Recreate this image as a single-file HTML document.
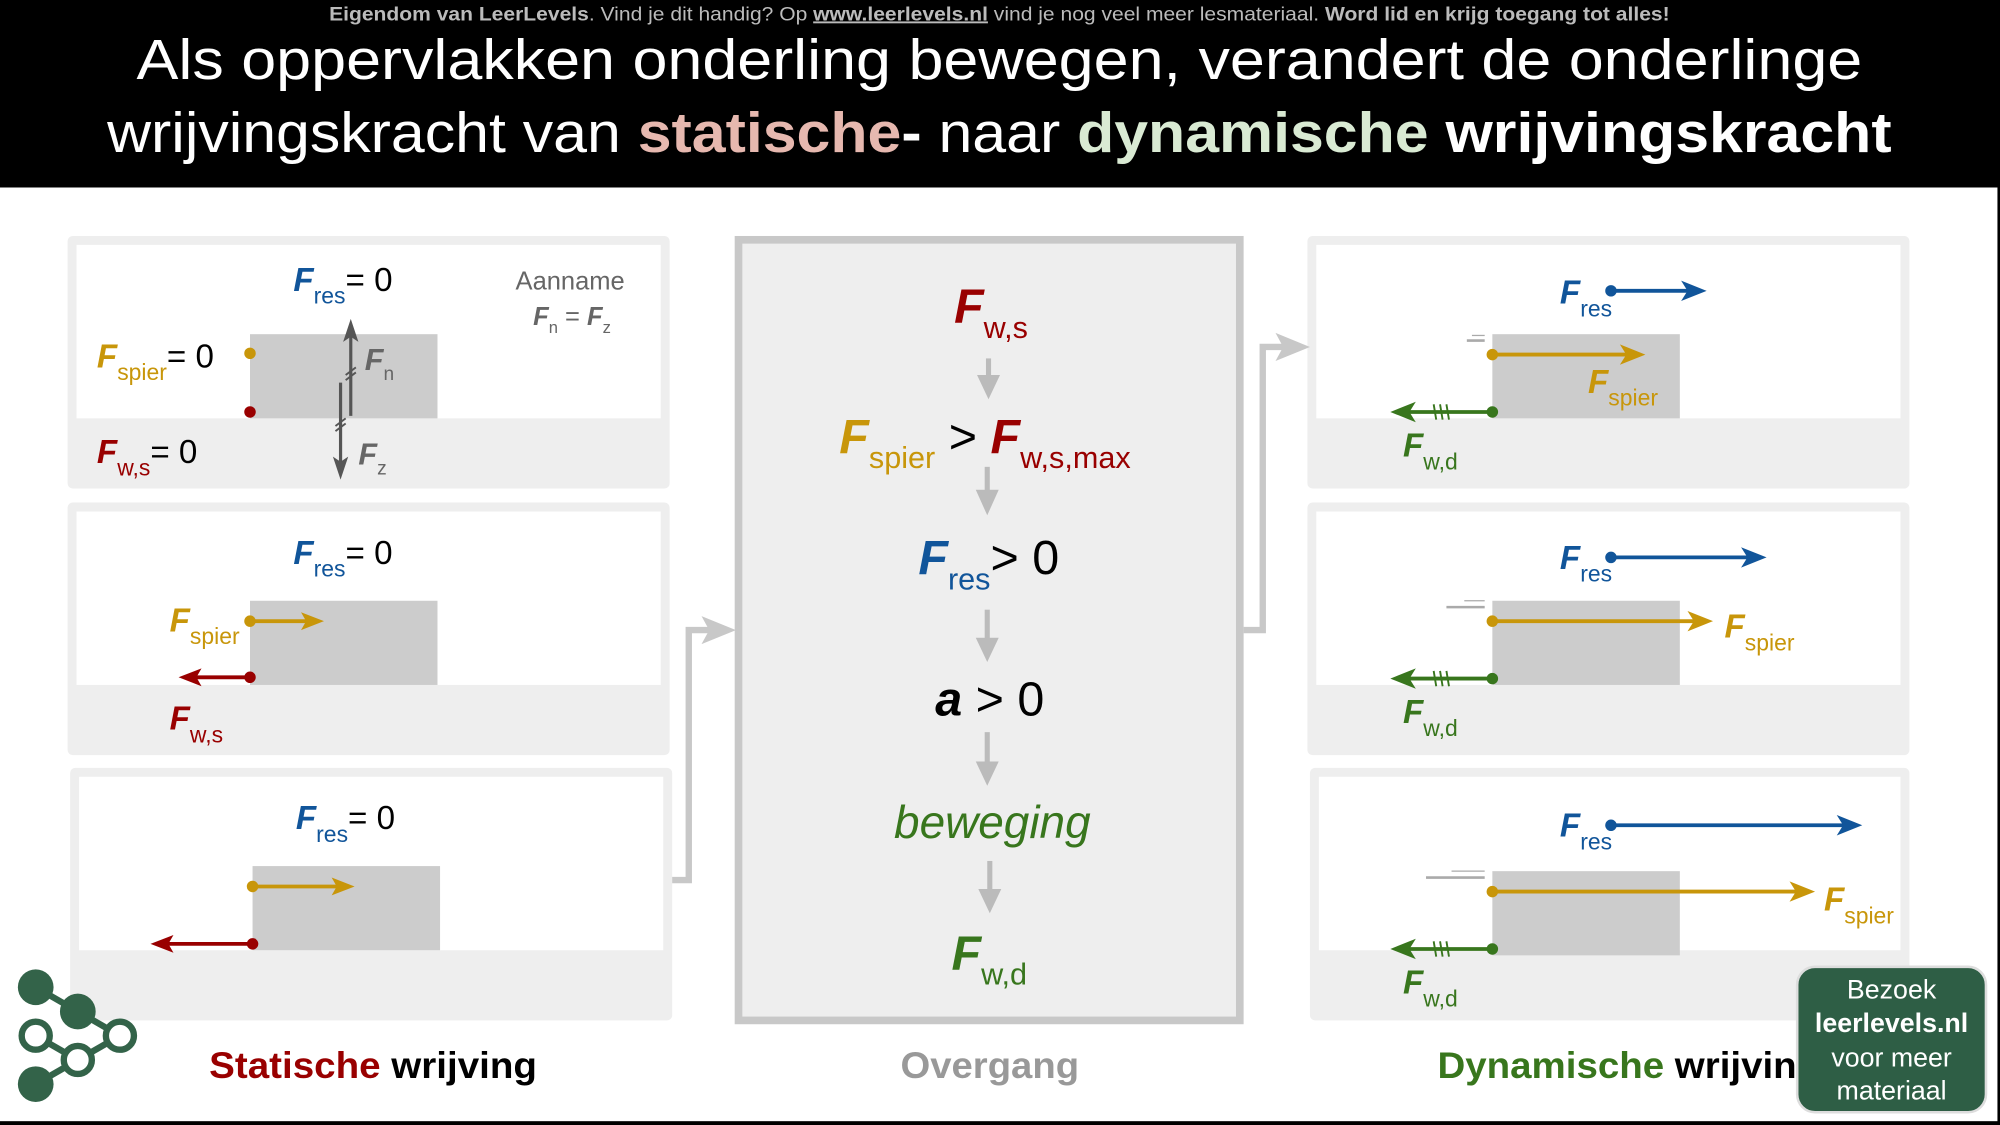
<!DOCTYPE html>
<html><head><meta charset="utf-8"><style>
html,body{margin:0;padding:0;background:#fff;}
svg{display:block;}
text{font-family:"Liberation Sans",sans-serif;}
.F{font-weight:bold;font-style:italic;}
</style></head><body>
<svg width="2000" height="1125" viewBox="0 0 1568 882" xmlns="http://www.w3.org/2000/svg">
<rect width="1568" height="882" fill="#fff"/>
<rect x="0" y="0" width="1568" height="147" fill="#000"/>
<text x="258" y="16" textLength="1051" lengthAdjust="spacingAndGlyphs" font-size="15" fill="#bbb"><tspan font-weight="bold">Eigendom van LeerLevels</tspan>. Vind je dit handig? Op <tspan font-weight="bold" text-decoration="underline">www.leerlevels.nl</tspan> vind je nog veel meer lesmateriaal. <tspan font-weight="bold">Word lid en krijg toegang tot alles!</tspan></text>
<text x="107" y="62" textLength="1353" lengthAdjust="spacingAndGlyphs" font-size="44" fill="#fff">Als oppervlakken onderling bewegen, verandert de onderlinge</text>
<text x="84" y="119" textLength="1399" lengthAdjust="spacingAndGlyphs" font-size="44" fill="#fff">wrijvingskracht van <tspan fill="#e6b8af" font-weight="bold">statische</tspan><tspan font-weight="bold">-</tspan> naar <tspan fill="#d9ead3" font-weight="bold">dynamische</tspan> <tspan font-weight="bold">wrijvingskracht</tspan></text>
<rect x="1566" y="147" width="2" height="735" fill="#000"/>
<rect x="0" y="879" width="1568" height="3" fill="#000"/>

<g fill="#eeeeee">
<rect x="53" y="185" width="472" height="198" rx="4"/>
<rect x="53" y="394" width="472" height="198" rx="4"/>
<rect x="55" y="602" width="472" height="198" rx="4"/>
<rect x="1025" y="185" width="472" height="198" rx="4"/>
<rect x="1025" y="394" width="472" height="198" rx="4"/>
<rect x="1027" y="602" width="470" height="198" rx="4"/>
</g>
<g fill="#fff">
<rect x="60" y="192" width="458" height="136"/>
<rect x="60" y="401" width="458" height="136"/>
<rect x="62" y="609" width="458" height="136"/>
<rect x="1032" y="192" width="458" height="136"/>
<rect x="1032" y="401" width="458" height="136"/>
<rect x="1034" y="609" width="456" height="136"/>
</g>
<g fill="#cccccc">
<rect x="196" y="262" width="147" height="66"/>
<rect x="196" y="471" width="147" height="66"/>
<rect x="198" y="679" width="147" height="66"/>
<rect x="1170" y="262" width="147" height="66"/>
<rect x="1170" y="471" width="147" height="66"/>
<rect x="1170" y="683" width="147" height="66"/>
</g>

<text x="230" y="228" font-size="26"><tspan class="F" fill="#11559a">F</tspan><tspan font-size="18" fill="#11559a" dy="10">res</tspan><tspan dy="-10" fill="#000">= 0</tspan></text>
<text x="447" y="227" text-anchor="middle" font-size="20" fill="#666">Aanname</text>
<text x="418" y="255" font-size="20" fill="#666"><tspan class="F">F</tspan><tspan font-size="13" dy="6">n</tspan><tspan dy="-6"> = </tspan><tspan class="F">F</tspan><tspan font-size="13" dy="6">z</tspan></text>
<text x="76" y="288" font-size="26"><tspan class="F" fill="#c8960a">F</tspan><tspan font-size="18" fill="#c8960a" dy="10">spier</tspan><tspan dy="-10" fill="#000">= 0</tspan></text>
<text x="76" y="363" font-size="26"><tspan class="F" fill="#990000">F</tspan><tspan font-size="18" fill="#990000" dy="10">w,s</tspan><tspan dy="-10" fill="#000">= 0</tspan></text>
<circle cx="196" cy="277" r="4.5" fill="#c8960a"/>
<circle cx="196" cy="323" r="4.5" fill="#990000"/>
<g stroke="#555" stroke-width="2.5" fill="#555">
<line x1="275" y1="326" x2="275" y2="262"/>
<path d="M275,250 L281,268 L275,264 L269,268z" stroke="none"/>
<line x1="267" y1="300" x2="267" y2="364"/>
<path d="M267,376 L261,358 L267,362 L273,358z" stroke="none"/>
<path d="M271,294 L279,288 M271,298 L279,292 M263,334 L271,328 M263,338 L271,332" stroke-width="1.5"/>
</g>
<text x="286" y="290" font-size="24" fill="#666"><tspan class="F">F</tspan><tspan font-size="15" dy="8">n</tspan></text>
<text x="281" y="364" font-size="24" fill="#666"><tspan class="F">F</tspan><tspan font-size="15" dy="8">z</tspan></text>

<text x="230" y="442" font-size="26"><tspan class="F" fill="#11559a">F</tspan><tspan font-size="18" fill="#11559a" dy="10">res</tspan><tspan dy="-10" fill="#000">= 0</tspan></text>
<text x="133" y="495" font-size="26"><tspan class="F" fill="#c8960a">F</tspan><tspan font-size="18" fill="#c8960a" dy="10">spier</tspan></text>
<text x="133" y="572" font-size="26"><tspan class="F" fill="#990000">F</tspan><tspan font-size="18" fill="#990000" dy="10">w,s</tspan></text>
<line x1="196" y1="487" x2="244" y2="487" stroke="#c8960a" stroke-width="3"/>
<path d="M254,487 L236,480 L240,487 L236,494z" fill="#c8960a"/>
<circle cx="196" cy="487" r="4.5" fill="#c8960a"/>
<line x1="196" y1="531" x2="150" y2="531" stroke="#990000" stroke-width="3"/>
<path d="M140,531 L158,524 L154,531 L158,538z" fill="#990000"/>
<circle cx="196" cy="531" r="4.5" fill="#990000"/>

<text x="232" y="650" font-size="26"><tspan class="F" fill="#11559a">F</tspan><tspan font-size="18" fill="#11559a" dy="10">res</tspan><tspan dy="-10" fill="#000">= 0</tspan></text>
<line x1="198" y1="695" x2="268" y2="695" stroke="#c8960a" stroke-width="3"/>
<path d="M278,695 L260,688 L264,695 L260,702z" fill="#c8960a"/>
<circle cx="198" cy="695" r="4.5" fill="#c8960a"/>
<line x1="198" y1="740" x2="128" y2="740" stroke="#990000" stroke-width="3"/>
<path d="M118,740 L136,733 L132,740 L136,747z" fill="#990000"/>
<circle cx="198" cy="740" r="4.5" fill="#990000"/>

<polyline points="527,690 540,690 540,494 560,494" fill="none" stroke="#c8c8c8" stroke-width="5"/>
<path d="M577,494 L550,483 L556,494 L550,505z" fill="#c8c8c8"/>
<polyline points="975,494 990,494 990,272 1010,272" fill="none" stroke="#c8c8c8" stroke-width="5"/>
<path d="M1027,272 L1000,261 L1006,272 L1000,283z" fill="#c8c8c8"/>

<rect x="579" y="188" width="393" height="612" fill="#eeeeee" stroke="#c8c8c8" stroke-width="6"/>
<g font-size="38">
<text x="748" y="253"><tspan class="F" fill="#990000">F</tspan><tspan font-size="24" fill="#990000" dy="12">w,s</tspan></text>
<text x="658" y="355"><tspan class="F" fill="#c8960a">F</tspan><tspan font-size="24" fill="#c8960a" dy="12">spier</tspan><tspan dy="-12" fill="#000"> &gt; </tspan><tspan class="F" fill="#990000">F</tspan><tspan font-size="24" fill="#990000" dy="12">w,s,max</tspan></text>
<text x="720" y="450"><tspan class="F" fill="#11559a">F</tspan><tspan font-size="24" fill="#11559a" dy="12">res</tspan><tspan dy="-12" fill="#000">&gt; 0</tspan></text>
<text x="776" y="561" text-anchor="middle" fill="#000"><tspan class="F">a</tspan> &gt; 0</text>
<text x="778" y="657" text-anchor="middle" fill="#38761d" font-style="italic" font-size="36">beweging</text>
<text x="746" y="760"><tspan class="F" fill="#38761d">F</tspan><tspan font-size="24" fill="#38761d" dy="12">w,d</tspan></text>
</g>
<g fill="#bbb" stroke="#bbb" stroke-width="4">
<line x1="775" y1="281" x2="775" y2="298"/><path d="M766,294 L784,294 L775,313z" stroke="none"/>
<line x1="774" y1="366" x2="774" y2="388"/><path d="M765,384 L783,384 L774,404z" stroke="none"/>
<line x1="774" y1="478" x2="774" y2="503"/><path d="M765,500 L783,500 L774,519z" stroke="none"/>
<line x1="774" y1="574" x2="774" y2="600"/><path d="M765,597 L783,597 L774,616z" stroke="none"/>
<line x1="776" y1="675" x2="776" y2="700"/><path d="M767,697 L785,697 L776,716z" stroke="none"/>
</g>

<g>
<text x="1223" y="238" font-size="26"><tspan class="F" fill="#11559a">F</tspan><tspan font-size="18" fill="#11559a" dy="10">res</tspan></text>
<line x1="1263" y1="228" x2="1325" y2="228" stroke="#11559a" stroke-width="3"/>
<path d="M1338,228 L1318,220 L1323,228 L1318,236z" fill="#11559a"/>
<circle cx="1263" cy="228" r="4.5" fill="#11559a"/>
<line x1="1150" y1="267" x2="1164" y2="267" stroke="#aaa" stroke-width="2"/>
<line x1="1154" y1="263" x2="1164" y2="263" stroke="#aaa" stroke-width="1"/>
<line x1="1170" y1="278" x2="1277" y2="278" stroke="#c8960a" stroke-width="3"/>
<path d="M1290,278 L1270,270 L1275,278 L1270,286z" fill="#c8960a"/>
<circle cx="1170" cy="278" r="4.5" fill="#c8960a"/>
<text x="1245" y="308" font-size="26"><tspan class="F" fill="#c8960a">F</tspan><tspan font-size="18" fill="#c8960a" dy="10">spier</tspan></text>
</g>
<g id="fw">
<line x1="1170" y1="323" x2="1102" y2="323" stroke="#38761d" stroke-width="3"/>
<path d="M1090,323 L1110,315 L1105,323 L1110,331z" fill="#38761d"/>
<path d="M1124,317 L1126,329 M1129,317 L1131,329 M1134,317 L1136,329" stroke="#38761d" stroke-width="1.5"/>
<circle cx="1170" cy="323" r="4.5" fill="#38761d"/>
<text x="1100" y="358" font-size="26"><tspan class="F" fill="#38761d">F</tspan><tspan font-size="18" fill="#38761d" dy="10">w,d</tspan></text>
</g>
<use href="#fw" y="209"/>
<use href="#fw" y="421"/>

<text x="1223" y="446" font-size="26"><tspan class="F" fill="#11559a">F</tspan><tspan font-size="18" fill="#11559a" dy="10">res</tspan></text>
<line x1="1263" y1="437" x2="1372" y2="437" stroke="#11559a" stroke-width="3"/>
<path d="M1385,437 L1365,429 L1370,437 L1365,445z" fill="#11559a"/>
<circle cx="1263" cy="437" r="4.5" fill="#11559a"/>
<line x1="1134" y1="476" x2="1164" y2="476" stroke="#aaa" stroke-width="2"/>
<line x1="1148" y1="471" x2="1164" y2="471" stroke="#aaa" stroke-width="1"/>
<line x1="1170" y1="487" x2="1330" y2="487" stroke="#c8960a" stroke-width="3"/>
<path d="M1343,487 L1323,479 L1328,487 L1323,495z" fill="#c8960a"/>
<circle cx="1170" cy="487" r="4.5" fill="#c8960a"/>
<text x="1352" y="500" font-size="26"><tspan class="F" fill="#c8960a">F</tspan><tspan font-size="18" fill="#c8960a" dy="10">spier</tspan></text>

<text x="1223" y="656" font-size="26"><tspan class="F" fill="#11559a">F</tspan><tspan font-size="18" fill="#11559a" dy="10">res</tspan></text>
<line x1="1263" y1="647" x2="1447" y2="647" stroke="#11559a" stroke-width="3"/>
<path d="M1460,647 L1440,639 L1445,647 L1440,655z" fill="#11559a"/>
<circle cx="1263" cy="647" r="4.5" fill="#11559a"/>
<line x1="1118" y1="688" x2="1164" y2="688" stroke="#aaa" stroke-width="2"/>
<line x1="1138" y1="683" x2="1164" y2="683" stroke="#aaa" stroke-width="1"/>
<line x1="1170" y1="699" x2="1410" y2="699" stroke="#c8960a" stroke-width="3"/>
<path d="M1423,699 L1403,691 L1408,699 L1403,707z" fill="#c8960a"/>
<circle cx="1170" cy="699" r="4.5" fill="#c8960a"/>
<text x="1430" y="714" font-size="26"><tspan class="F" fill="#c8960a">F</tspan><tspan font-size="18" fill="#c8960a" dy="10">spier</tspan></text>

<text x="164" y="845" textLength="257" lengthAdjust="spacingAndGlyphs" font-size="29" font-weight="bold"><tspan fill="#990000">Statische</tspan> <tspan fill="#000">wrijving</tspan></text>
<text x="706" y="845" textLength="140" lengthAdjust="spacingAndGlyphs" font-size="29" font-weight="bold" fill="#999">Overgang</text>
<text x="1127" y="845" textLength="300" lengthAdjust="spacingAndGlyphs" font-size="29" font-weight="bold"><tspan fill="#38761d">Dynamische</tspan> <tspan fill="#000">wrijving</tspan></text>

<g stroke="#336349" stroke-width="5" fill="#336349">
<line x1="28" y1="774" x2="61" y2="793"/>
<line x1="61" y1="793" x2="94" y2="812"/>
<line x1="28" y1="812" x2="61" y2="831"/>
<line x1="61" y1="831" x2="94" y2="812"/>
<line x1="61" y1="831" x2="28" y2="850"/>
<circle cx="28" cy="774" r="14" stroke="none"/>
<circle cx="61" cy="793" r="14" stroke="none"/>
<circle cx="28" cy="850" r="14" stroke="none"/>
<circle cx="28" cy="812" r="11" fill="#fff"/>
<circle cx="94" cy="812" r="11" fill="#fff"/>
<circle cx="61" cy="831" r="11" fill="#fff"/>
</g>

<rect x="1409" y="758" width="148" height="114" rx="14" fill="#2e5e45" stroke="#ddd" stroke-width="2"/>
<g fill="#fff" font-size="21" text-anchor="middle">
<text x="1483" y="783">Bezoek</text>
<text x="1483" y="809" font-weight="bold">leerlevels.nl</text>
<text x="1483" y="836">voor meer</text>
<text x="1483" y="862">materiaal</text>
</g>
</svg>
</body></html>
